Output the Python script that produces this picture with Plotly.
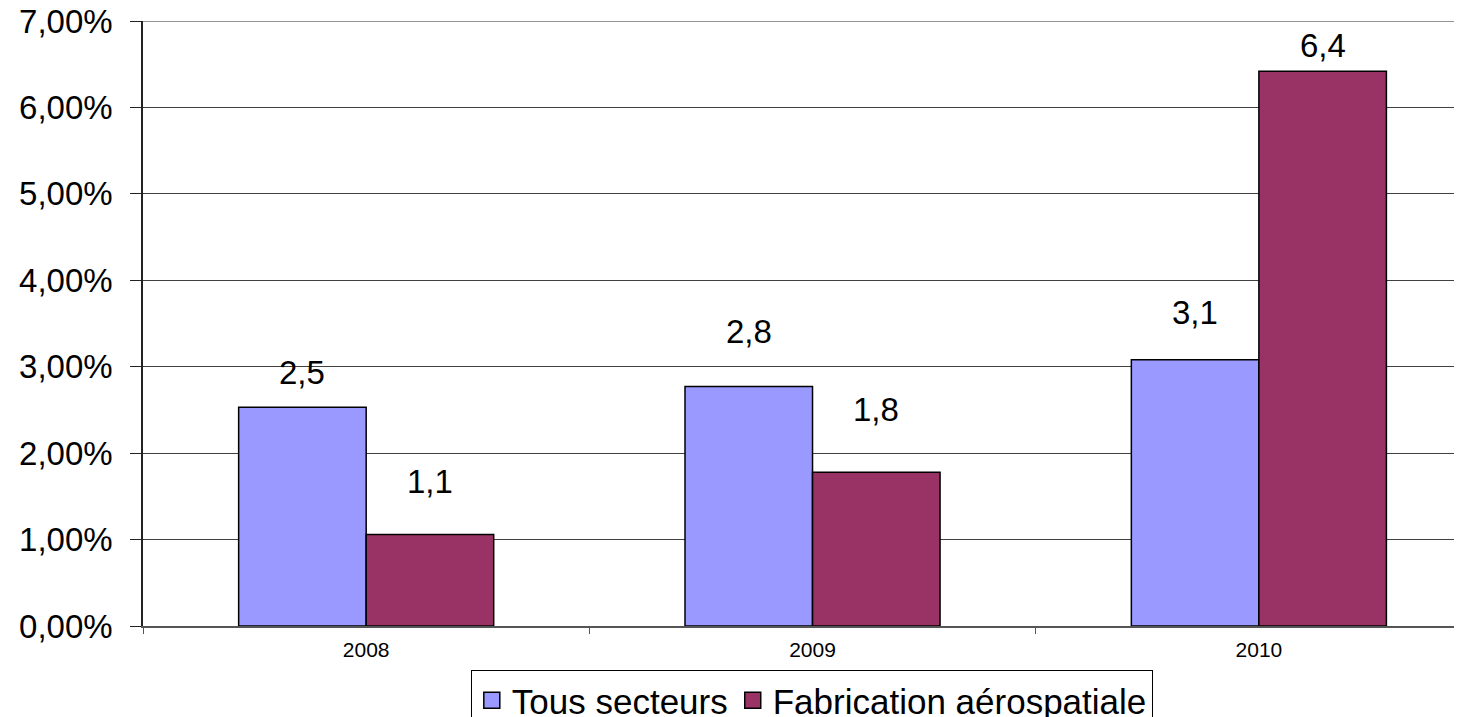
import plotly.graph_objects as go

years = ["2008", "2009", "2010"]
series_names = ["Tous secteurs", "Fabrication aérospatiale"]
tous_secteurs = [0.0253, 0.0277, 0.0308]
fabrication_aero = [0.0106, 0.0178, 0.0642]
y_ticks = [0, 0.01, 0.02, 0.03, 0.04, 0.05, 0.06, 0.07]

colors = ["#9999FF", "#993366"]
FONT = "Liberation Sans, Arial, sans-serif"

fig = go.Figure()
for name, vals, col in zip(series_names, [tous_secteurs, fabrication_aero], colors):
    fig.add_trace(go.Bar(
        x=years, y=vals, name=name, showlegend=False,
        marker=dict(color=col, line=dict(color="black", width=1.5)),
    ))
# legend proxies (bigger square symbols)
for name, col in zip(series_names, colors):
    fig.add_trace(go.Scatter(
        x=[None], y=[None], mode="markers", name=name,
        marker=dict(symbol="square", size=16, color=col,
                    line=dict(color="black", width=1.5)),
    ))

# data labels
label_shift = [[35, 53], [55, 63], [47, 26]]
half = 0.1429
for i, yr in enumerate(years):
    for j, vals in enumerate([tous_secteurs, fabrication_aero]):
        v = vals[i]
        txt = f"{v*100:.1f}".replace(".", ",")
        fig.add_annotation(
            x=i + (-half if j == 0 else half), y=v, xref="x", yref="y",
            text=txt, showarrow=False, yanchor="middle", xanchor="center",
            yshift=label_shift[i][j],
            font=dict(family=FONT, size=33, color="black"),
        )

# top gridline (plotly omits the grid line at the range edge)
fig.add_shape(type="line", xref="paper", x0=0, x1=1, yref="y",
              y0=y_ticks[-1], y1=y_ticks[-1],
              line=dict(color="#707070", width=1.5), layer="below")

fig.update_layout(
    width=1462, height=717,
    margin=dict(l=135, r=0, t=13, b=99, autoexpand=False),
    paper_bgcolor="white", plot_bgcolor="white",
    separators=", ",
    barmode="group", bargap=0.4286, bargroupgap=0,
    font=dict(family=FONT, color="black"),
    legend=dict(
        orientation="h", x=0.504, xanchor="center", y=-0.0727, yanchor="top",
        bordercolor="black", borderwidth=1, bgcolor="white",
        font=dict(family=FONT, size=35, color="black"),
        itemsizing="trace", tracegroupgap=0,
    ),
)
fig.update_xaxes(
    type="category", range=[-0.5, 2.473], automargin=False,
    showgrid=False, showline=True, linecolor="#555555", linewidth=2,
    ticks="outside", tickson="boundaries", ticklen=6, tickcolor="#555555",
    tickfont=dict(family=FONT, size=21, color="black"),
    ticklabelstandoff=4,
)
fig.update_yaxes(
    range=[0, 0.07], tickvals=y_ticks, tickformat=".2%", automargin=False,
    showgrid=True, gridcolor="#404040", gridwidth=1,
    zeroline=False,
    showline=True, linecolor="#222222", linewidth=1.5,
    ticks="outside", ticklen=11, tickcolor="#222222",
    tickfont=dict(family=FONT, size=33, color="black"),
    ticklabelstandoff=11, ticklabeloverflow="allow",
)

fig.write_html("out.html")
